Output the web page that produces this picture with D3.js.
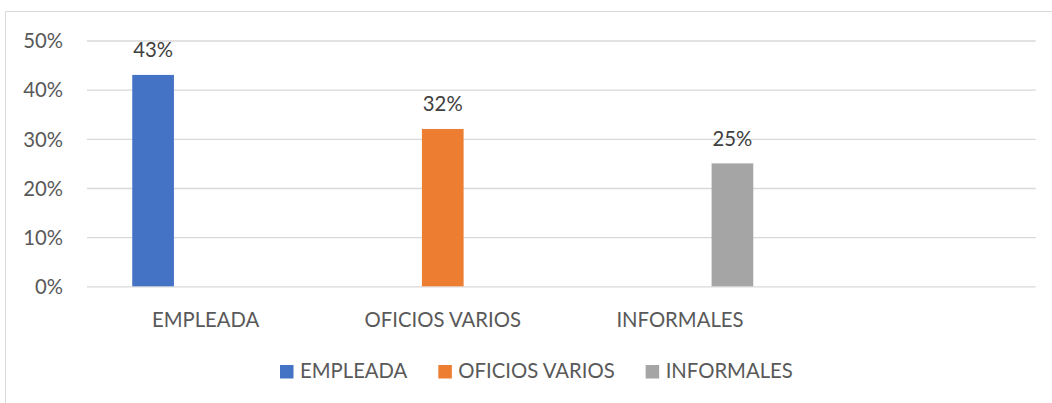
<!DOCTYPE html>
<html>
<head>
<meta charset="utf-8">
<script src="https://cdn.jsdelivr.net/npm/d3@7"></script>
<style>
  html, body { margin: 0; padding: 0; background: #fff; }
  svg { display: block; }
  text { font-family: Lato, "Noto Sans", sans-serif; }
</style>
</head>
<body>
<svg id="chart" width="1052" height="403"></svg>
<script>
// ---- data ----
const categories = ["EMPLEADA", "OFICIOS VARIOS", "INFORMALES", ""];
const seriesNames = ["EMPLEADA", "OFICIOS VARIOS", "INFORMALES"];
const empleadaValues = [0.43, null, null, null];
const oficiosValues = [null, 0.32, null, null];
const informalesValues = [null, null, 0.25, null];
const seriesColors = ["#4472C4", "#ED7D31", "#A5A5A5"];
const yTicks = [0, 0.1, 0.2, 0.3, 0.4, 0.5];

const seriesValues = [empleadaValues, oficiosValues, informalesValues];

const svg = d3.select("#chart");
const W = 1052, H = 403;
const plot = { left: 87, right: 1035.7, top: 40.5, bottom: 286.3 };
const textColor = "#595959";
const fontSize = 20.3;

// chart frame
svg.append("path")
  .attr("d", `M5.5,${H} L5.5,11.5 L${W},11.5`)
  .attr("fill", "none").attr("stroke", "#d9d9d9").attr("stroke-width", 1);

const y = d3.scaleLinear().domain([0, 0.5]).range([plot.bottom, plot.top]);
const x0 = d3.scaleBand().domain(categories).range([plot.left, plot.right]).padding(0);
const groupPad = 45.25;
const x1 = d3.scaleBand().domain(seriesNames)
  .range([groupPad, x0.bandwidth() - groupPad]).paddingInner(0.206).paddingOuter(0);

// gridlines
const yAxis = d3.axisLeft(y).tickValues(yTicks).tickSize(-(plot.right - plot.left))
  .tickFormat(d3.format(".0%")).tickPadding(24);
const gy = svg.append("g").attr("transform", `translate(${plot.left},0)`).call(yAxis);
gy.select(".domain").remove();
gy.selectAll(".tick line").attr("stroke", "#d9d9d9").attr("stroke-width", 1.3);
gy.selectAll(".tick text")
  .attr("fill", textColor).attr("font-size", fontSize)
  .attr("font-family", "Lato, 'Noto Sans', sans-serif")
  .attr("dy", "0.36em");

// category axis labels
const xAxis = d3.axisBottom(x0).tickSize(0).tickPadding(0);
const gx = svg.append("g").attr("transform", `translate(0,${plot.bottom})`).call(xAxis);
gx.select(".domain").remove();
gx.selectAll(".tick text")
  .attr("fill", textColor).attr("font-size", fontSize)
  .attr("font-family", "Lato, 'Noto Sans', sans-serif")
  .attr("dy", 0).attr("y", 41);

// bars
const barData = [];
seriesValues.forEach((vals, si) => {
  vals.forEach((v, ci) => {
    if (v !== null) barData.push({ series: seriesNames[si], cat: categories[ci], value: v, color: seriesColors[si] });
  });
});

svg.append("g").selectAll("rect").data(barData).join("rect")
  .attr("x", d => x0(d.cat) + x1(d.series))
  .attr("y", d => y(d.value))
  .attr("width", x1.bandwidth())
  .attr("height", d => y(0) - y(d.value))
  .attr("fill", d => d.color);

// data labels
svg.append("g").selectAll("text").data(barData).join("text")
  .attr("x", d => x0(d.cat) + x1(d.series) + x1.bandwidth() / 2)
  .attr("y", d => y(d.value) - 17.7)
  .attr("text-anchor", "middle")
  .attr("fill", "#404040").attr("font-size", fontSize)
  .text(d => d3.format(".0%")(d.value));

// legend
const legend = svg.append("g");
let lx = 280;
const ly = 365;
seriesNames.forEach((name, i) => {
  legend.append("rect").attr("x", lx).attr("y", ly).attr("width", 13.5).attr("height", 13.5)
    .attr("fill", seriesColors[i]);
  const t = legend.append("text").attr("x", lx + 20).attr("y", ly + 13.3)
    .attr("fill", textColor).attr("font-size", fontSize).text(name);
  const w = t.node().getComputedTextLength();
  lx = lx + 20 + w + 31;
});
</script>
</body>
</html>
